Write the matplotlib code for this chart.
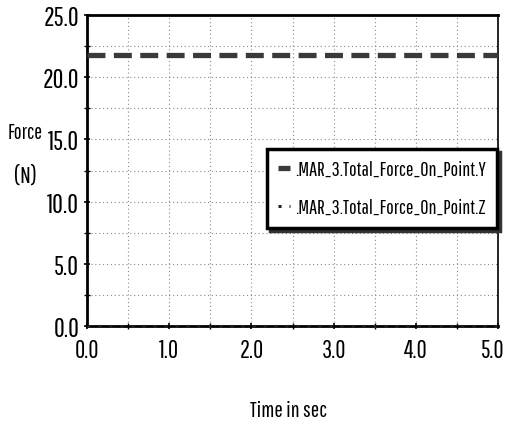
import matplotlib
matplotlib.use("Agg")
import matplotlib.pyplot as plt
import numpy as np
from matplotlib.ticker import MultipleLocator
from matplotlib.transforms import ScaledTranslation

FONT = ['Pathway Gothic One', 'League Gothic', 'DejaVu Sans']
plt.rcParams['font.family'] = FONT

time = [0.0, 5.0]
force_y = [21.8, 21.8]
force_z = [0.0, 0.0]
series_names = [".MAR_3.Total_Force_On_Point.Y", ".MAR_3.Total_Force_On_Point.Z"]
xticks = [0.0, 1.0, 2.0, 3.0, 4.0, 5.0]
yticks = [0.0, 5.0, 10.0, 15.0, 20.0, 25.0]

W, H = 507, 427
fig = plt.figure(figsize=(W/100, H/100), dpi=100)
ax = fig.add_axes([87/W, 1-327/H, 411/W, 311/H])

ax.plot(time, force_y, color='#3a3a3a', lw=3.8, dashes=(3.4, 1.6), label=series_names[0],
        dash_capstyle='butt', zorder=3)
ax.plot(time, force_z, color='#222222', lw=2.2, linestyle=(0, (1.0, 2.6)), label=series_names[1],
        clip_on=False, zorder=4)

ax.set_xlim(0, 5)
ax.set_ylim(0, 25)
ax.set_xticks(xticks)
ax.set_xticklabels([f"{v:.1f}" for v in xticks])
ax.set_yticks(yticks)
ax.set_yticklabels([f"{v:.1f}" for v in yticks])
ax.xaxis.set_minor_locator(MultipleLocator(0.5))
ax.yaxis.set_minor_locator(MultipleLocator(2.5))
ax.grid(True, which='both', color='#8a8a8a', lw=0.8, linestyle=(0, (1, 2.5)))
ax.tick_params(axis='both', which='major', labelsize=19, length=5, width=1.2, direction='inout', pad=3)
ax.tick_params(axis='both', which='minor', length=4, width=1, direction='inout')
ax.tick_params(axis='x', which='major', pad=6, labelsize=18)

last = ax.get_xticklabels()[-1]
last.set_transform(last.get_transform() + ScaledTranslation(-5/100, 0, fig.dpi_scale_trans))

for s in ['left', 'bottom', 'top']:
    ax.spines[s].set_linewidth(2)
ax.spines['right'].set_linewidth(1.2)

fig.text(25/W, 1-133/H, "Force", ha='center', va='center', fontsize=15)
fig.text(25/W, 1-176/H, "(N)", ha='center', va='center', fontsize=17)
fig.text(288/W, 1-411/H, "Time in sec", ha='center', va='center', fontsize=16)

leg = ax.legend(loc='upper right', bbox_to_anchor=(497/W, 1-150/H), bbox_transform=fig.transFigure,
                fontsize=14.5, frameon=True, fancybox=False, edgecolor='black',
                handlelength=0.6, handletextpad=0.25, borderpad=0.55, labelspacing=0.95,
                borderaxespad=0, shadow={'color': '#333333', 'alpha': 1.0}, framealpha=1)
leg.get_frame().set_linewidth(2.5)

fig.savefig("out.png", dpi=100)
